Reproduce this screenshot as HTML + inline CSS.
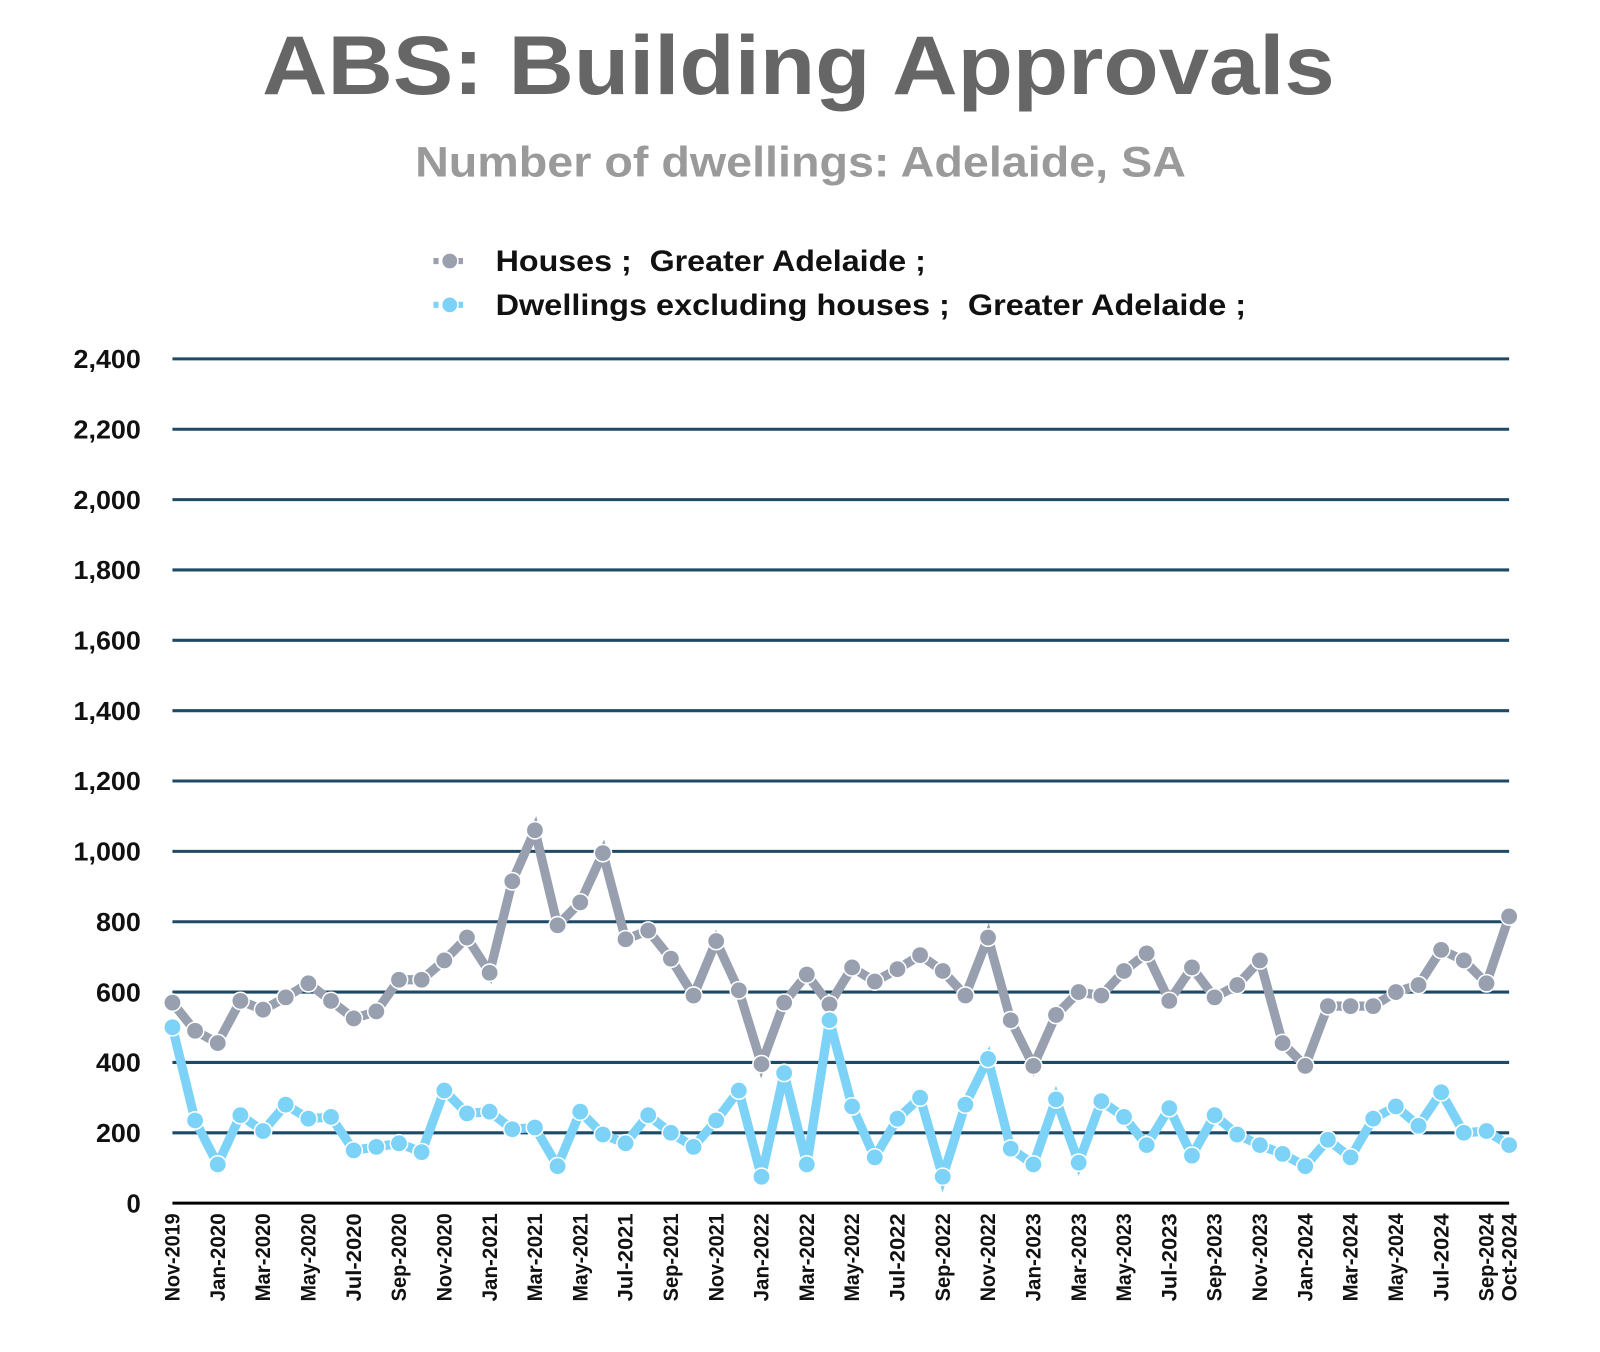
<!DOCTYPE html>
<html><head><meta charset="utf-8"><style>html,body{margin:0;padding:0;background:#fff}svg{display:block}</style></head>
<body>
<svg id="c" width="1600" height="1352" viewBox="0 0 1569 1326" xmlns="http://www.w3.org/2000/svg" font-family="Liberation Sans, sans-serif">
<text x="783" y="92" text-anchor="middle" font-size="82" font-weight="bold" fill="#666" textLength="1052" lengthAdjust="spacingAndGlyphs">ABS: Building Approvals</text>
<text x="785" y="173" text-anchor="middle" font-size="42" font-weight="bold" fill="#9a9a9a" textLength="756" lengthAdjust="spacingAndGlyphs">Number of dwellings: Adelaide, SA</text>
<g id="leg">
<line x1="425" y1="256" x2="457" y2="256" stroke="#9aa0ad" stroke-width="6" stroke-dasharray="5,3"/><circle cx="441" cy="256" r="8" fill="#9aa0ad" stroke="#fff" stroke-width="1.5"/>
<line x1="425" y1="299" x2="457" y2="299" stroke="#7dd3f7" stroke-width="6" stroke-dasharray="5,3"/><circle cx="441" cy="299" r="8" fill="#7dd3f7" stroke="#fff" stroke-width="1.5"/>
<text x="486" y="266" font-size="29" font-weight="bold" fill="#111" textLength="422" lengthAdjust="spacingAndGlyphs" xml:space="preserve">Houses ;  Greater Adelaide ;</text>
<text x="486" y="309" font-size="29" font-weight="bold" fill="#111" textLength="736" lengthAdjust="spacingAndGlyphs" xml:space="preserve">Dwellings excluding houses ;  Greater Adelaide ;</text>
</g>
<g id="grid"></g>
<g id="series"></g>
</svg>
<script>
var ns="http://www.w3.org/2000/svg";
function el(t,a,p,txt){var e=document.createElementNS(ns,t);for(var k in a)e.setAttribute(k,a[k]);if(txt)e.textContent=txt;p.appendChild(e);return e;}
var g=document.getElementById('grid'),s=document.getElementById('series');
function Y(v){return 1180-v*0.345;}
function X(i){return 169+i*1311/59;}
for(var v=200;v<=2400;v+=200){el('line',{x1:169,x2:1480,y1:Y(v),y2:Y(v),stroke:'#1f4a66','stroke-width':3},g);}
el('line',{x1:169,x2:1480,y1:1180,y2:1180,stroke:'#000','stroke-width':3},g);
for(var v=0;v<=2400;v+=200){var t=v>=1000?(Math.floor(v/1000)+','+String(v%1000).padStart(3,'0')):String(v);
el('text',{x:138,y:Y(v)+9,'text-anchor':'end','font-size':25,'font-weight':'bold',fill:'#111',textLength:t.length>3?66:(t.length==3?44:14),lengthAdjust:'spacingAndGlyphs'},g,t);}
var mon=['Jan','Feb','Mar','Apr','May','Jun','Jul','Aug','Sep','Oct','Nov','Dec'];
for(var i=0;i<60;i++){if(i%2==0||i==59){var m=(10+i)%12,y=2019+Math.floor((10+i)/12);var lab=mon[m]+'-'+y;var x=X(i)+7;
el('text',{x:0,y:0,transform:'translate('+x+',1190) rotate(-90)','text-anchor':'end','font-size':21,'font-weight':'bold',fill:'#111',textLength:lab.length*10.8,lengthAdjust:'spacingAndGlyphs'},g,lab);}}
var H=[570,490,455,575,550,585,625,575,525,545,635,635,690,755,655,915,1060,790,855,995,750,775,695,590,745,605,395,570,650,565,670,630,665,705,660,590,755,520,390,535,600,590,660,710,575,670,585,620,690,455,390,560,560,560,600,620,720,690,625,815];
var D=[500,235,110,250,205,280,240,245,150,160,170,145,320,255,260,210,215,105,260,195,170,250,200,160,235,320,75,370,110,520,275,130,240,300,75,280,410,155,110,295,115,290,245,165,270,135,250,195,165,140,105,180,130,240,275,220,315,200,205,165];
function draw(d,c){var p=d.map(function(v,i){return X(i).toFixed(1)+','+Y(v).toFixed(1)}).join(' ');
el('polyline',{points:p,fill:'none',stroke:c,'stroke-width':9,'stroke-linejoin':'miter'},s);
d.forEach(function(v,i){el('circle',{cx:X(i),cy:Y(v),r:8.5,fill:c,stroke:'#fff','stroke-width':1.5},s);});}
draw(H,'#98a0b0');draw(D,'#7dd3f7');
</script>
</body></html>
